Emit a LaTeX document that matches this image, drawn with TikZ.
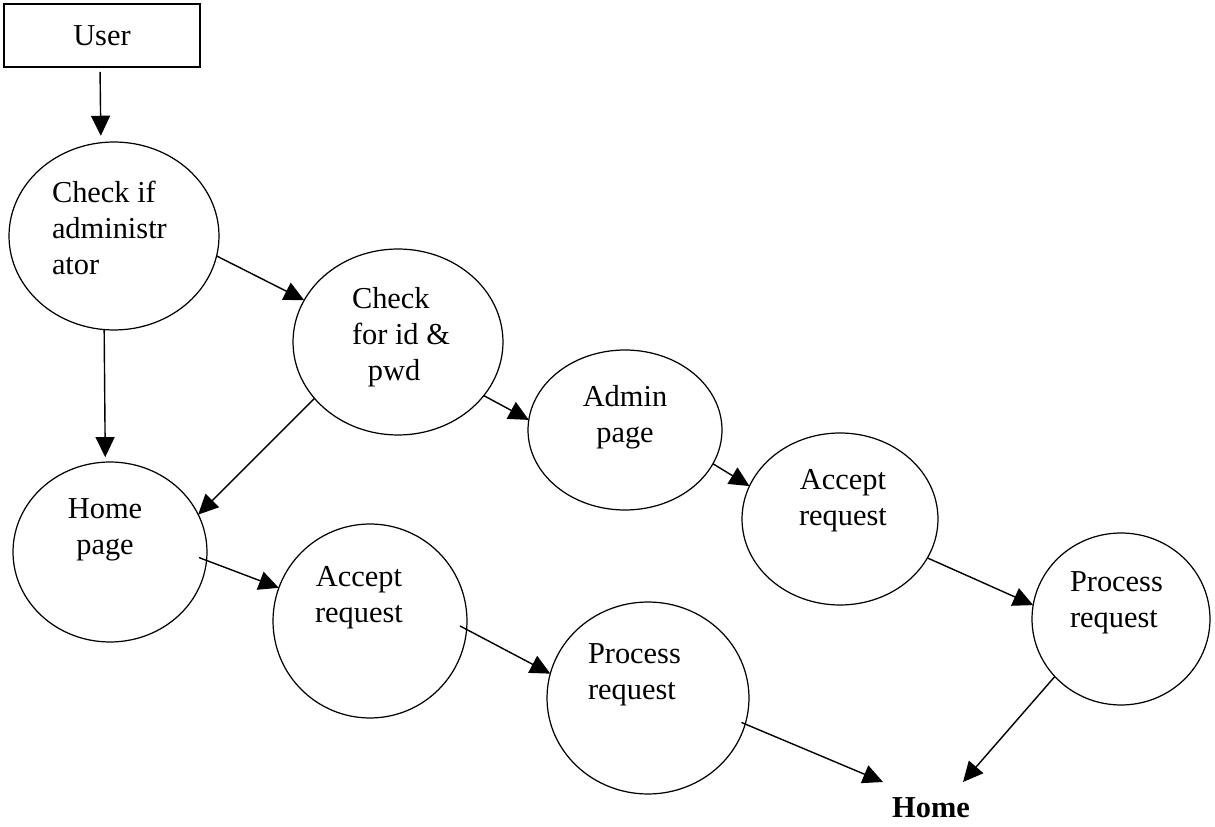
\documentclass[tikz,border=0pt]{standalone}
\usepackage{fontspec}
\setmainfont{Liberation Serif}
\usetikzlibrary{arrows.meta,shapes.geometric}
\begin{document}
\begin{tikzpicture}[x=0.02cm,y=-0.02cm,
  every node/.style={font=\fontsize{17.3}{20.5}\selectfont, inner sep=0pt, outer sep=0pt},
  bub/.style={ellipse, draw, line width=0.7pt},
  ctxt/.style={align=center},
  ltxt/.style={align=left, anchor=west},
  arr/.style={line width=0.8pt, -{Triangle[length=0.4cm,width=0.38cm]}},
]
\useasboundingbox (0,0) rectangle (1215,827);

% entry box
\node[draw, line width=0.7pt, minimum width=3.92cm, minimum height=1.26cm] (user) at (102,35.5) {User};

% process bubbles
\node[bub, minimum width=4.2cm,  minimum height=3.76cm] (c1)   at (114,236) {};
\node[bub, minimum width=4.2cm,  minimum height=3.72cm] (c2)   at (398,342) {};
\node[bub, minimum width=3.88cm, minimum height=3.2cm]  (adm)  at (625,430) {};
\node[bub, minimum width=3.92cm, minimum height=3.44cm] (accR) at (840,519) {};
\node[bub, minimum width=3.56cm, minimum height=3.44cm] (proR) at (1121,619) {};
\node[bub, minimum width=3.88cm, minimum height=3.6cm]  (homp) at (110,552) {};
\node[bub, minimum width=3.88cm, minimum height=3.88cm] (accL) at (370,621) {};
\node[bub, minimum width=4.04cm, minimum height=3.84cm] (proL) at (648,698) {};

% bubble texts
\node[ltxt] (t1) at (52,228) {Check if\\administr\\ator};
\node[ltxt] (t2) at (352,337) {Check\\for id \&\\\hspace*{0.32cm}pwd};
\node[ctxt] (t3) at (625,417) {Admin\\page};
\node[ctxt] (t4) at (843,501) {Accept\\request};
\node[ltxt] (t5) at (1070,603) {Process\\request};
\node[ctxt] (t6) at (105,530) {Home\\page};
\node[ctxt] (t7) at (359,598) {Accept\\request};
\node[ltxt] (t8) at (588,675) {Process\\request};

% final target
\node (home) at (931,808) {\textbf{Home}};
\coordinate (homeL) at (883,782);
\coordinate (homeR) at (963,782);

% flows
\draw[arr, shorten <=0.1cm, shorten >=0.14cm] ([xshift=-0.04cm]user.south) -- (c1.98.5);
\draw[arr] (c1.-11.2) -- (c2.156.8);
\draw[arr, shorten >=0.1cm] (c1.-96) -- (homp.93.6);
\draw[arr] (c2.214.5) -- (homp.23.7);
\draw[arr] (c2.-32.9) -- (adm.174);
\draw[arr] (adm.-21.3) -- (accR.160.8);
\draw[arr] (accR.-24.4) -- (proR.171);
\draw[arr] (proR.221.3) -- (homeR);
\draw[arr, shorten <=-0.16cm] (homp.-5.1) -- (accL.160.6);
\draw[arr, shorten <=-0.15cm] (accL.-5.8) -- (proL.166.5);
\draw[arr, shorten <=-0.08cm] (proL.-15) -- (homeL);
\end{tikzpicture}
\end{document}
